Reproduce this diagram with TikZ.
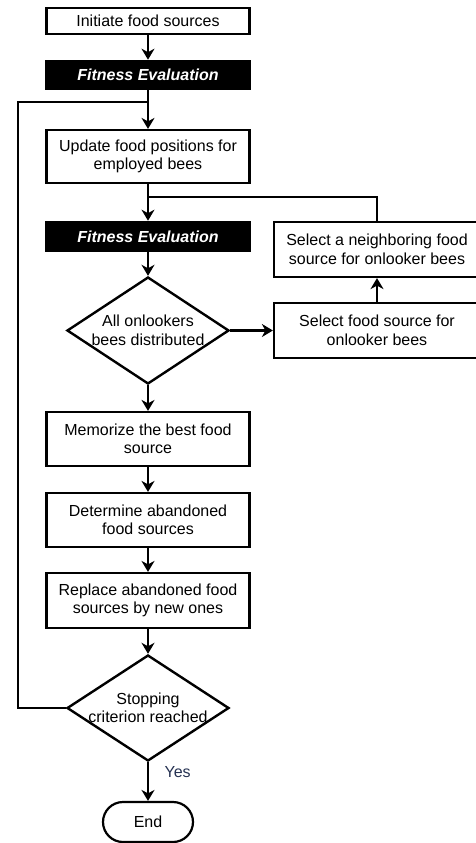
\documentclass[tikz,border=0pt]{standalone}
\usepackage{fontspec}
\setmainfont{Liberation Sans}
\usetikzlibrary{shapes.geometric,arrows.meta}
\definecolor{yescol}{HTML}{263252}
\begin{document}
\begin{tikzpicture}[x=1pt,y=-1pt,line width=2.6pt,
  every node/.style={font=\fontsize{16}{18.5}\selectfont,align=center},
  proc/.style={draw,line width=2.2pt,rectangle,minimum width=203pt,minimum height=54pt,inner sep=0pt},
  fitbox/.style={draw,fill=black,text=white,font=\fontsize{16}{18.5}\selectfont\bfseries\itshape,minimum width=204pt,minimum height=28pt,inner sep=0pt},
  dec/.style={draw,line width=2.4pt,diamond,minimum width=162pt,minimum height=107pt,inner sep=0pt},
  flow/.style={-{Stealth[length=11pt,width=13pt,inset=3.5pt]}}]
\useasboundingbox (0,0) rectangle (476,843);

\node[proc,minimum height=26pt] (init) at (148,21) {Initiate food sources};
\node[fitbox] (fit1) at (148,75) {Fitness Evaluation};
\node[proc,minimum height=53pt] (upd) at (148,156.5) {Update food positions for\\employed bees};
\node[fitbox,minimum height=29pt] (fit2) at (148,236.5) {Fitness Evaluation};
\node[proc,minimum width=206pt,minimum height=55pt] (nbr) at (377,249.5) {Select a neighboring food\\source for onlooker bees};
\node[proc,minimum width=206pt,minimum height=55pt] (sel) at (377,330.5) {Select food source for\\onlooker bees};
\node[dec] (d1) at (148,330.5) {};
\node (d1txt) at (d1) {All onlookers\\bees distributed};
\node[proc] (mem) at (148,439) {Memorize the best food\\source};
\node[proc] (aban) at (148,520) {Determine abandoned\\food sources};
\node[proc,minimum height=55pt] (repl) at (148,600.5) {Replace abandoned food\\sources by new ones};
\node[dec,minimum height=106pt] (d2) at (148,708) {};
\node (d2txt) at (d2) {Stopping\\criterion reached};
\node[draw,line width=2.2pt,rounded corners=20pt,minimum width=90pt,minimum height=40pt,inner sep=0pt] (end) at (148,822) {End};

\coordinate (jn) at (148,197);
\coordinate (lp) at (148,102);
\coordinate (lpx) at (18,102);

\draw[flow] (init) -- (fit1);
\draw[flow] (fit1) -- (upd);
\draw[flow] (upd) -- (fit2);
\draw[flow] (fit2) -- (d1);
\draw[flow] (d1) -- (sel);
\draw[flow] (sel) -- (nbr);
\draw (nbr.north) |- (jn);
\draw[flow] (d1) -- (mem);
\draw[flow] (mem) -- (aban);
\draw[flow] (aban) -- (repl);
\draw[flow] (repl) -- (d2);
\draw (d2.west) -| (lpx) -- (lp);
\draw[flow] (d2) -- node[pos=0.25,right=12pt,text=yescol] (yes) {Yes} (end);
\end{tikzpicture}
\end{document}
